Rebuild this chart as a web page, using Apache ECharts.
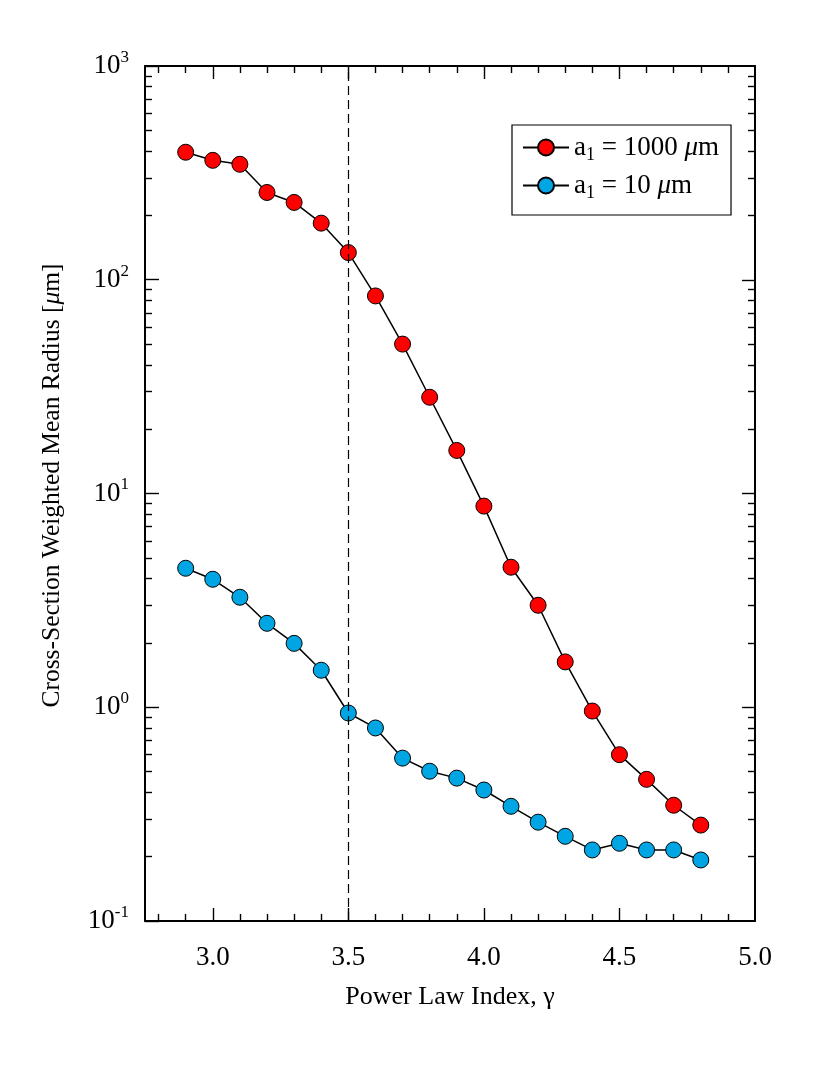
<!DOCTYPE html>
<html>
<head>
<meta charset="utf-8">
<script src="https://cdn.jsdelivr.net/npm/echarts@6/dist/echarts.min.js"></script>
<style>
  html, body { margin: 0; padding: 0; background: #fff; }
  #chart { width: 830px; height: 1075px; }
</style>
</head>
<body>
<div id="chart"></div>
<script>
// power law index on the x axis
const gamma = [2.9, 3.0, 3.1, 3.2, 3.3, 3.4, 3.5, 3.6, 3.7, 3.8, 3.9, 4.0, 4.1, 4.2, 4.3, 4.4, 4.5, 4.6, 4.7, 4.8];
// cross-section weighted mean radius [um]
const radiusA1000 = [395, 362, 347, 256, 230, 184, 134, 84, 50, 28.2, 15.9, 8.73, 4.52, 3.0, 1.63, 0.96, 0.60, 0.46, 0.348, 0.281];
const radiusA10 = [4.47, 3.97, 3.27, 2.47, 1.99, 1.49, 0.94, 0.80, 0.578, 0.502, 0.466, 0.41, 0.344, 0.290, 0.249, 0.215, 0.231, 0.215, 0.215, 0.193];

const xLabelValues = [3.0, 3.5, 4.0, 4.5, 5.0];
const xMajorTicks = [3.0, 3.5, 4.0, 4.5];
const xMinorTicks = [2.8, 2.9, 3.1, 3.2, 3.3, 3.4, 3.6, 3.7, 3.8, 3.9, 4.1, 4.2, 4.3, 4.4, 4.6, 4.7, 4.8, 4.9];
const yMinorTicks = [0.2, 0.3, 0.4, 0.5, 0.6, 0.7, 0.8, 0.9, 2, 3, 4, 5, 6, 7, 8, 9,
                     20, 30, 40, 50, 60, 70, 80, 90, 200, 300, 400, 500, 600, 700, 800, 900];
const referenceGamma = 3.5;
const legendValues = { a1000: '1000', a10: '10' };

const FONT = 'Liberation Serif';
const frameLine = { show: true, onZero: false, lineStyle: { color: '#000', width: 2 } };
const noLine = { show: false, onZero: false };

function majorTick(values) {
  return { show: true, inside: true, length: 13, customValues: values, lineStyle: { color: '#000', width: 1.4 } };
}
function minorTick(values) {
  return { show: true, inside: true, length: 7, customValues: values, lineStyle: { color: '#000', width: 1.4 } };
}

const chart = echarts.init(document.getElementById('chart'), null, { renderer: 'canvas' });

const xBase = { type: 'value', gridIndex: 0, min: 2.75, max: 5.0, splitLine: { show: false } };
const yMinorBase = { type: 'value', gridIndex: 0, min: -1, max: 3, splitLine: { show: false },
                     axisLabel: { show: false } };
const yMinorLog = yMinorTicks.map(v => Math.log10(v));

function pointsOf(values) {
  return gamma.map((g, i) => [g, values[i]]);
}

chart.setOption({
  animation: false,
  backgroundColor: '#fff',
  textStyle: { fontFamily: FONT, color: '#000' },
  grid: { left: 145, right: 75, top: 66, bottom: 154 },
  legend: {
    left: 512,
    top: 125,
    orient: 'vertical',
    backgroundColor: '#fff',
    borderColor: '#000',
    borderWidth: 1.2,
    borderRadius: 0,
    padding: [9, 12, 13, 10],
    itemWidth: 46,
    itemHeight: 20,
    itemGap: 8,
    data: ['a1000', 'a10'],
    formatter: name => `{t|a}{s|1}{t| = ${legendValues[name]} }{i|μ}{t|m}`,
    textStyle: {
      fontFamily: FONT,
      fontSize: 27,
      color: '#000',
      rich: {
        t: { fontFamily: FONT, fontSize: 27, lineHeight: 33, color: '#000' },
        s: { fontFamily: FONT, fontSize: 18, lineHeight: 6, verticalAlign: 'bottom', color: '#000' },
        i: { fontFamily: FONT, fontSize: 27, lineHeight: 33, fontStyle: 'italic', color: '#000' }
      }
    }
  },
  xAxis: [
    Object.assign({}, xBase, {
      position: 'bottom',
      axisLine: frameLine,
      axisTick: majorTick(xMajorTicks),
      axisLabel: {
        customValues: xLabelValues,
        margin: 23,
        fontFamily: FONT,
        fontSize: 27,
        color: '#000',
        formatter: v => v.toFixed(1)
      },
      name: 'Power Law Index, γ',
      nameLocation: 'middle',
      nameGap: 63,
      nameTextStyle: { fontFamily: FONT, fontSize: 26, color: '#000' }
    }),
    Object.assign({}, xBase, { position: 'bottom', axisLine: noLine,
      axisTick: minorTick(xMinorTicks), axisLabel: { show: false } }),
    Object.assign({}, xBase, { position: 'top', axisLine: frameLine,
      axisTick: majorTick(xMajorTicks), axisLabel: { show: false } }),
    Object.assign({}, xBase, { position: 'top', axisLine: noLine,
      axisTick: minorTick(xMinorTicks), axisLabel: { show: false } })
  ],
  yAxis: [
    {
      type: 'log',
      logBase: 10,
      gridIndex: 0,
      min: 0.1,
      max: 1000,
      position: 'left',
      splitLine: { show: false },
      axisLine: frameLine,
      axisTick: { show: true, inside: true, length: 14, lineStyle: { color: '#000', width: 1.4 } },
      axisLabel: {
        margin: 16,
        formatter: v => `{b|10}{e|${Math.round(Math.log10(v))}}`,
        rich: {
          b: { fontFamily: FONT, fontSize: 27, lineHeight: 34, color: '#000' },
          e: { fontFamily: FONT, fontSize: 17, lineHeight: 17, verticalAlign: 'top', color: '#000' }
        }
      },
      name: '{t|Cross-Section Weighted Mean Radius [}{i|μ}{t|m]}',
      nameLocation: 'middle',
      nameGap: 80,
      nameTextStyle: {
        fontFamily: FONT,
        fontSize: 25.5,
        color: '#000',
        padding: [0, 0, 0, 16],
        rich: {
          t: { fontFamily: FONT, fontSize: 25.5, color: '#000' },
          i: { fontFamily: FONT, fontSize: 25.5, fontStyle: 'italic', color: '#000' }
        }
      }
    },
    Object.assign({}, yMinorBase, { position: 'left', axisLine: noLine,
      axisTick: minorTick(yMinorLog) }),
    Object.assign({}, yMinorBase, { position: 'right', axisLine: frameLine,
      axisTick: majorTick([0, 1, 2]) }),
    Object.assign({}, yMinorBase, { position: 'right', axisLine: noLine,
      axisTick: minorTick(yMinorLog) })
  ],
  series: [
    {
      name: 'a1000',
      type: 'line',
      xAxisIndex: 0,
      yAxisIndex: 0,
      data: pointsOf(radiusA1000),
      symbol: 'circle',
      symbolSize: 16,
      showSymbol: true,
      lineStyle: { color: '#000', width: 1.5 },
      itemStyle: { color: '#ff0000', borderColor: '#000', borderWidth: 1 },
      z: 3,
      markLine: {
        silent: true,
        symbol: 'none',
        label: { show: false },
        lineStyle: { color: '#000', width: 1.2, type: [9, 5] },
        data: [{ xAxis: referenceGamma }]
      }
    },
    {
      name: 'a10',
      type: 'line',
      xAxisIndex: 0,
      yAxisIndex: 0,
      data: pointsOf(radiusA10),
      symbol: 'circle',
      symbolSize: 16,
      showSymbol: true,
      lineStyle: { color: '#000', width: 1.5 },
      itemStyle: { color: '#00a5e3', borderColor: '#000', borderWidth: 1 },
      z: 3
    }
  ]
});
</script>
</body>
</html>
